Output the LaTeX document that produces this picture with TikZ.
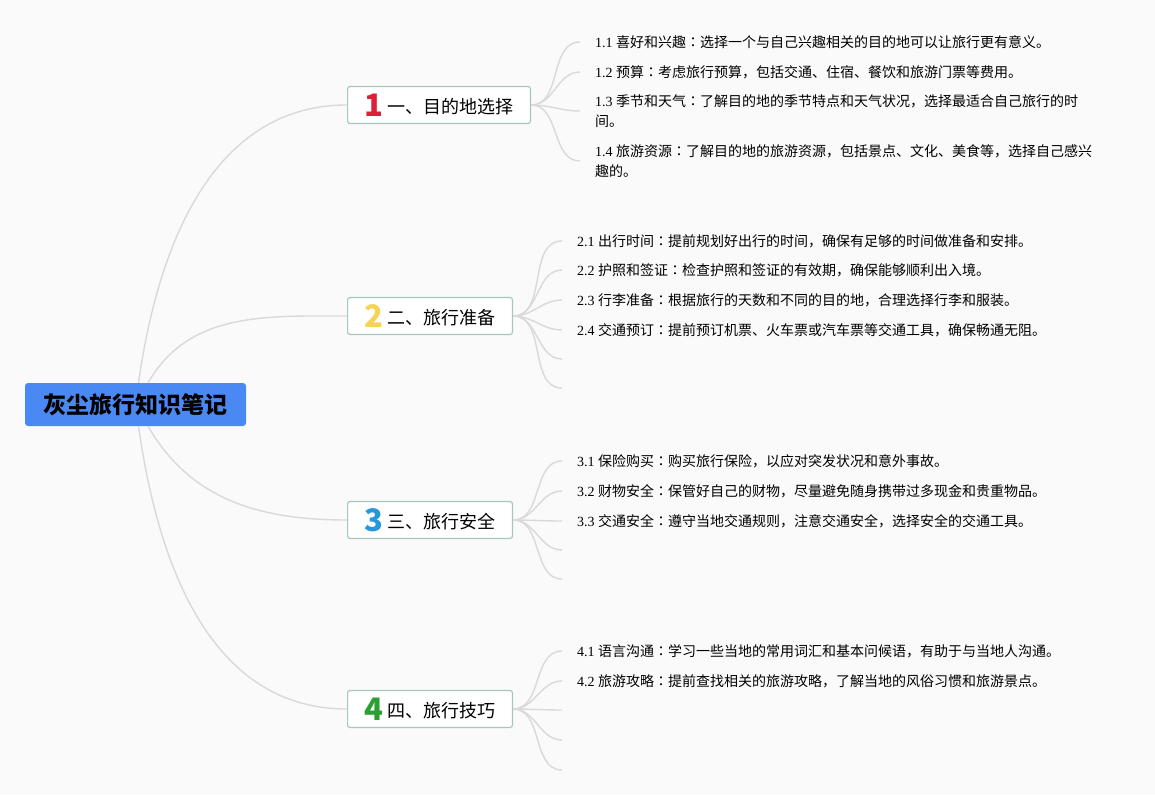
\documentclass[tikz,border=0pt]{standalone}
\usepackage{fontspec}
\setmainfont{Liberation Serif}
\newfontfamily\cjk{Noto Sans CJK SC}
\newfontfamily\cjkjp{Noto Sans CJK JP}
\usetikzlibrary{positioning}

\definecolor{paper}{HTML}{FAFAFA}
\definecolor{rootblue}{HTML}{4A89F3}
\definecolor{topicline}{HTML}{A3C9BB}
\definecolor{linkgray}{HTML}{D9D9D9}
\definecolor{numred}{HTML}{DC2038}
\definecolor{numyellow}{HTML}{F6D352}
\definecolor{numblue}{HTML}{2598DA}
\definecolor{numgreen}{HTML}{2C9F33}

\newcommand{\topicnum}[2]{\raisebox{-3pt}{\fontsize{31}{31}\selectfont\bfseries\color{#1}#2}\hspace{4pt}}
% label, head, text: colon set centred
\newcommand{\itm}[3]{#1 {\cjk #2}{\cjkjp ：}{\cjk #3}}

\tikzset{
  rootbox/.style={fill=rootblue, rounded corners=3pt, minimum width=221pt,
    minimum height=43pt, inner sep=0pt, font=\cjk\bfseries\fontsize{23}{23}\selectfont},
  topic/.style={draw=topicline, fill=white, line width=1.2pt, rounded corners=2.5pt,
    anchor=west, minimum height=37pt, inner xsep=17pt, inner ysep=0pt,
    font=\cjk\fontsize{18}{18}\selectfont},
  item/.style={anchor=west, inner xsep=15pt, inner ysep=0pt, align=left,
    font=\fontsize{14}{20}\selectfont},
  link/.style={draw=linkgray, line width=1.4pt},
}

\begin{document}
\begin{tikzpicture}[x=1pt, y=-1pt]
\useasboundingbox (0,0) rectangle (1155,795);
\fill[paper] (0,0) rectangle (1155,795);

\node[rootbox] (root) at (135.5,404.5) {灰尘旅行知识笔记};

\node[topic] (b1) at (347,105) {\topicnum{numred}{1}一、目的地选择};
\node[topic] (b2) at (347,316) {\topicnum{numyellow}{2}二、旅行准备};
\node[topic] (b3) at (347,520) {\topicnum{numblue}{3}三、旅行安全};
\node[topic] (b4) at (347,709) {\topicnum{numgreen}{4}四、旅行技巧};

% 目的地选择
\node[item] (i11) at (580,42) {\itm{1.1}{喜好和兴趣}{选择一个与自己兴趣相关的目的地可以让旅行更有意义。}};
\node[item] (i12) at (580,72) {\itm{1.2}{预算}{考虑旅行预算，包括交通、住宿、餐饮和旅游门票等费用。}};
\node[item] (i13) at (580,111) {\itm{1.3}{季节和天气}{了解目的地的季节特点和天气状况，选择最适合自己旅行的时}\\{\cjk 间。}};
\node[item] (i14) at (580,161) {\itm{1.4}{旅游资源}{了解目的地的旅游资源，包括景点、文化、美食等，选择自己感兴}\\{\cjk 趣的。}};

% 旅行准备
\node[item] (i21) at (562,241) {\itm{2.1}{出行时间}{提前规划好出行的时间，确保有足够的时间做准备和安排。}};
\node[item] (i22) at (562,270) {\itm{2.2}{护照和签证}{检查护照和签证的有效期，确保能够顺利出入境。}};
\node[item] (i23) at (562,300) {\itm{2.3}{行李准备}{根据旅行的天数和不同的目的地，合理选择行李和服装。}};
\node[item] (i24) at (562,330) {\itm{2.4}{交通预订}{提前预订机票、火车票或汽车票等交通工具，确保畅通无阻。}};
\coordinate (e25) at (562,359);
\coordinate (e26) at (562,388);

% 旅行安全
\node[item] (i31) at (562,461) {\itm{3.1}{保险购买}{购买旅行保险，以应对突发状况和意外事故。}};
\node[item] (i32) at (562,491) {\itm{3.2}{财物安全}{保管好自己的财物，尽量避免随身携带过多现金和贵重物品。}};
\node[item] (i33) at (562,521) {\itm{3.3}{交通安全}{遵守当地交通规则，注意交通安全，选择安全的交通工具。}};
\coordinate (e34) at (562,550);
\coordinate (e35) at (562,579);

% 旅行技巧
\node[item] (i41) at (562,651) {\itm{4.1}{语言沟通}{学习一些当地的常用词汇和基本问候语，有助于与当地人沟通。}};
\node[item] (i42) at (562,681) {\itm{4.2}{旅游攻略}{提前查找相关的旅游攻略，了解当地的风俗习惯和旅游景点。}};
\coordinate (e43) at (562,710);
\coordinate (e44) at (562,740);
\coordinate (e45) at (562,770);

% links
\draw[link] (root) to[out=82,in=180] (b1);
\draw[link] (root) to[out=60,in=180] (b2);
\draw[link] (root) to[out=-60,in=180] (b3);
\draw[link] (root) to[out=-82,in=180] (b4);

\foreach \t in {i11,i12,i13,i14}
  \draw[link] (b1) to[out=0,in=180] (\t);
\foreach \t in {i21,i22,i23,i24,e25,e26}
  \draw[link] (b2) to[out=0,in=180] (\t);
\foreach \t in {i31,i32,i33,e34,e35}
  \draw[link] (b3) to[out=0,in=180] (\t);
\foreach \t in {i41,i42,e43,e44,e45}
  \draw[link] (b4) to[out=0,in=180] (\t);
\end{tikzpicture}
\end{document}
